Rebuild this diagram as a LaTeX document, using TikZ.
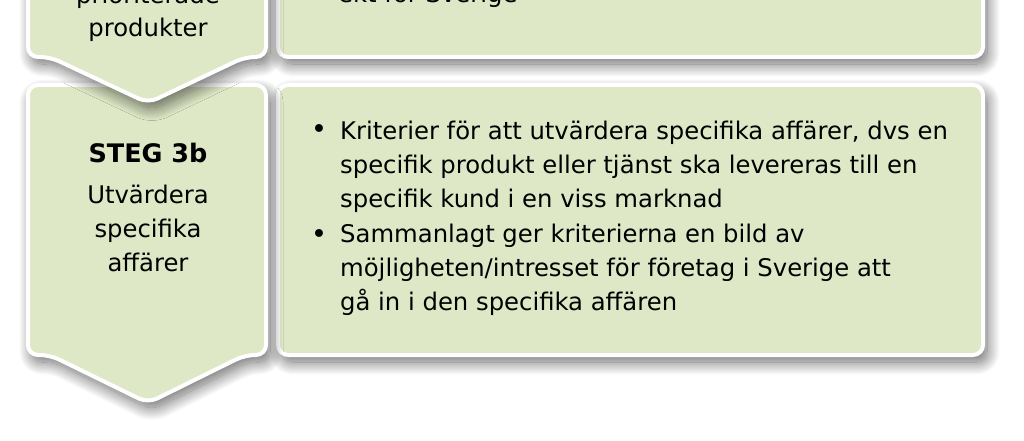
\documentclass[tikz,border=0pt]{standalone}
\usepackage{fontspec}
\setmainfont{DejaVu Sans}
\usepackage{xcolor}
\usetikzlibrary{positioning, shadows.blur}

\definecolor{stepgreen}{RGB}{222,232,198}

\begin{document}
\begin{tikzpicture}[x=1pt, y=-1pt, every node/.style={font=\fontsize{24.3}{33.7}\selectfont, inner sep=0pt}]

\tikzstyle{panel} = [draw=white, line width=4pt, fill=stepgreen, rounded corners=10pt, blur shadow={shadow xshift=4pt, shadow yshift=-7pt, shadow blur radius=13pt, shadow blur steps=30, shadow opacity=60}]
\tikzstyle{steptext} = [align=center, anchor=base]
\tikzstyle{bodytext} = [align=left, anchor=base west]

\useasboundingbox (0,0) rectangle (1024,441);
\clip (0,0) rectangle (1024,441);

% Panels
\draw [panel] (278,85) rectangle (983,355);
\draw [panel] (28,85) -- (266,85) -- (266,355) -- (245,355) -- (148,403) -- (50,355) -- (28,355) -- cycle;
\draw [panel] (278,-60) rectangle (983,57);
\draw [panel] (28,-60) -- (266,-60) -- (266,57) -- (245,57) -- (148,103) -- (50,57) -- (28,57) -- cycle;

% Nodes (base = last line)
\node (prio) [steptext] at (148,3.5) {prioriterade};
\node (produkter) [steptext] at (148,37) {produkter};
\node (sverige) [bodytext] at (338,3) {ekt för Sverige};

\node (steg) [steptext, font=\fontsize{25.5}{33.7}\selectfont\bfseries] at (148,162) {STEG 3b};
\node (utvardera) [steptext] at (148,271) {Utvärdera\\specifika\\affärer};

\node (bullet1) [bodytext, font=\fontsize{27}{33.7}\selectfont] at (311,139) {•};
\node (kriterier) [bodytext] at (340,207) {Kriterier för att utvärdera specifika affärer, dvs en\\specifik produkt eller tjänst ska levereras till en\\specifik kund i en viss marknad};
\node (bullet2) [bodytext, font=\fontsize{27}{33.7}\selectfont] at (311,243) {•};
\node (sammanlagt) [bodytext] at (340,310) {Sammanlagt ger kriterierna en bild av\\möjligheten/intresset för företag i Sverige att\\gå in i den specifika affären};

\end{tikzpicture}
\end{document}
